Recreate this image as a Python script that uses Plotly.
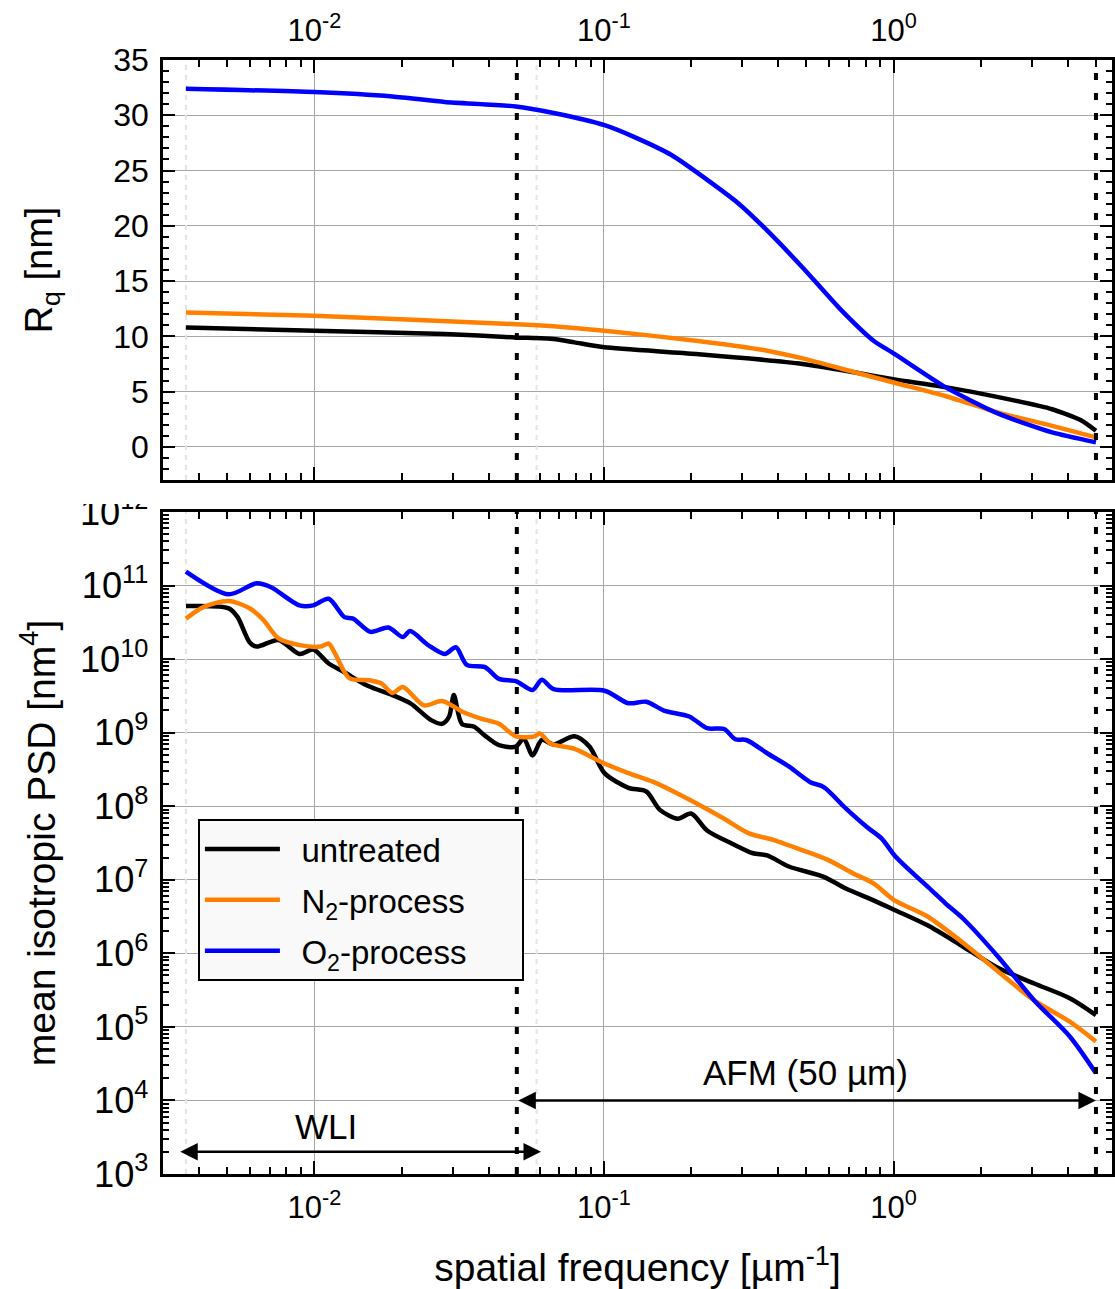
import numpy as np
import plotly.graph_objects as go

# ---------------- data ----------------
# Top panel: Rq [nm] vs spatial frequency [1/um]
rq_f_untreated = [0.0036, 0.01, 0.0282, 0.0496, 0.067, 0.0791, 0.1004, 0.208, 0.486, 0.746, 1.008, 1.51, 2.30, 3.53, 4.44, 5.0]
rq_untreated = [10.8, 10.5, 10.2, 9.9, 9.76, 9.45, 9.0, 8.4, 7.5, 6.7, 6.1, 5.4, 4.5, 3.4, 2.4, 1.45]

rq_f_n2 = [0.0036, 0.01, 0.0496, 0.067, 0.1004, 0.208, 0.366, 0.486, 0.746, 1.008, 1.51, 2.30, 3.53, 5.0]
rq_n2 = [12.15, 11.85, 11.1, 10.9, 10.5, 9.6, 8.7, 8.0, 6.7, 5.8, 4.6, 3.1, 1.9, 0.85]

rq_f_o2 = [0.0036, 0.01, 0.0186, 0.0282, 0.0496, 0.067, 0.1004, 0.128, 0.171, 0.24, 0.292, 0.365, 0.486, 0.647, 0.853, 1.008, 1.51, 2.30, 3.53, 5.0]
rq_o2 = [32.4, 32.1, 31.7, 31.2, 30.8, 30.2, 29.1, 28.0, 26.4, 23.7, 22.0, 19.6, 16.2, 12.6, 9.6, 8.4, 5.4, 3.0, 1.3, 0.4]

# Bottom panel: mean isotropic PSD, stored as log10 exponents of nm^4
psd_f_untreated = [0.0036, 0.00506, 0.00543, 0.00597, 0.00631, 0.00752, 0.00888, 0.0099, 0.0112, 0.0127,
                   0.0152, 0.0186, 0.0214, 0.0253, 0.0276, 0.0292, 0.0303, 0.0323, 0.0356, 0.0388,
                   0.0434, 0.0496, 0.0528, 0.0567, 0.0610, 0.0670, 0.0791, 0.0891, 0.1004, 0.1214,
                   0.140, 0.156, 0.180, 0.200, 0.227, 0.277, 0.327, 0.366, 0.435, 0.574,
                   0.684, 0.853, 1.008, 1.31, 1.74, 2.30, 3.06, 4.06, 5.0]
psd_log_untreated = [10.72, 10.69, 10.57, 10.23, 10.17, 10.26, 10.07, 10.13, 9.94, 9.82,
                     9.64, 9.51, 9.40, 9.17, 9.12, 9.22, 9.51, 9.12, 9.08, 8.96,
                     8.83, 8.81, 8.92, 8.69, 8.90, 8.84, 8.95, 8.81, 8.45, 8.25,
                     8.20, 7.95, 7.83, 7.90, 7.67, 7.49, 7.36, 7.33, 7.18, 7.04,
                     6.88, 6.72, 6.59, 6.38, 6.09, 5.80, 5.59, 5.39, 5.16]

psd_f_n2 = [0.0036, 0.00415, 0.00506, 0.00597, 0.00667, 0.00752, 0.00888, 0.0105, 0.0112, 0.0118,
            0.0132, 0.0156, 0.0170, 0.0186, 0.0202, 0.0239, 0.0276, 0.0326, 0.0376, 0.0434,
            0.0496, 0.0576, 0.0600, 0.0655, 0.0791, 0.1004, 0.1214, 0.148, 0.180, 0.220,
            0.260, 0.317, 0.386, 0.486, 0.593, 0.723, 0.853, 1.008, 1.31, 1.74,
            2.30, 3.06, 4.06, 5.0]
psd_log_n2 = [10.55, 10.71, 10.79, 10.69, 10.53, 10.28, 10.19, 10.17, 10.21, 10.07,
              9.74, 9.71, 9.67, 9.54, 9.62, 9.37, 9.43, 9.28, 9.19, 9.12,
              8.95, 8.95, 8.99, 8.85, 8.78, 8.58, 8.45, 8.33, 8.17, 7.99,
              7.83, 7.63, 7.54, 7.40, 7.27, 7.09, 6.95, 6.72, 6.50, 6.14,
              5.75, 5.36, 5.07, 4.80]

psd_f_o2 = [0.0036, 0.00506, 0.00631, 0.00706, 0.00888, 0.0099, 0.0112, 0.0127, 0.0136, 0.0156,
            0.0180, 0.0202, 0.0214, 0.0247, 0.0282, 0.0308, 0.0336, 0.0388, 0.0434, 0.0496,
            0.0567, 0.0610, 0.0670, 0.1004, 0.1214, 0.140, 0.161, 0.197, 0.227, 0.260,
            0.284, 0.310, 0.366, 0.435, 0.514, 0.574, 0.684, 0.807, 0.910, 1.008,
            1.135, 1.35, 1.51, 1.74, 2.30, 3.06, 4.06, 5.0]
psd_log_o2 = [11.19, 10.88, 11.03, 10.98, 10.73, 10.73, 10.82, 10.57, 10.55, 10.37,
              10.43, 10.30, 10.38, 10.19, 10.07, 10.16, 9.92, 9.89, 9.73, 9.70,
              9.58, 9.72, 9.59, 9.57, 9.40, 9.42, 9.30, 9.22, 9.06, 9.05,
              8.91, 8.90, 8.72, 8.54, 8.33, 8.26, 7.97, 7.72, 7.56, 7.33,
              7.13, 6.86, 6.68, 6.47, 5.95, 5.36, 4.87, 4.37]

series_names = ["untreated", "N<sub>2</sub>-process", "O<sub>2</sub>-process"]
series_colors = ["#000000", "#ff8000", "#0000ff"]

# measurement-range markers
range_bounds = [0.05, 5.0]          # dotted vertical lines
wli_faint = [0.0036, 0.0585]        # faint dashed lines
wli_arrow = [0.0034, 0.0606]
wli_arrow_y = 2.0e3
afm_arrow = [0.05, 5.0]
afm_arrow_y = 1.0e4
wli_label_pos = (0.011, 4.4e3)
afm_label_pos = (0.498, 2.43e4)

x_ticks = [0.01, 0.1, 1.0]
x_tick_text = ["10<sup>-2</sup>", "10<sup>-1</sup>", "10<sup>0</sup>"]
x_range = [0.003, 5.68]

# ---------------- figure ----------------
FONT = "Liberation Sans, Arial, sans-serif"
fig = go.Figure()

top_sets = [(rq_f_untreated, rq_untreated), (rq_f_n2, rq_n2), (rq_f_o2, rq_o2)]
bot_sets = [(psd_f_untreated, psd_log_untreated), (psd_f_n2, psd_log_n2), (psd_f_o2, psd_log_o2)]

# faint dashed lines
for xv in wli_faint:
    fig.add_trace(go.Scatter(x=[xv, xv], y=[-3, 35], mode="lines", xaxis="x", yaxis="y",
                             line=dict(color="#e4e4e4", width=2, dash="5px,5px"),
                             showlegend=False, hoverinfo="skip"))
    fig.add_trace(go.Scatter(x=[xv, xv], y=[1e3, 1e12], mode="lines", xaxis="x2", yaxis="y2",
                             line=dict(color="#e4e4e4", width=2, dash="5px,5px"),
                             showlegend=False, hoverinfo="skip"))

for (fx, fy), name, col in zip(top_sets, series_names, series_colors):
    fig.add_trace(go.Scatter(x=fx, y=fy, mode="lines", xaxis="x", yaxis="y", name=name,
                             line=dict(color=col, width=4.5, shape="spline", smoothing=0.6),
                             showlegend=False))

for i, ((fx, fy), name, col) in enumerate(zip(bot_sets, series_names, series_colors)):
    fig.add_trace(go.Scatter(x=fx, y=[10 ** v for v in fy], mode="lines", xaxis="x2", yaxis="y2",
                             name="\u2002" + name + "\u2003\u2002", legendgroup="g%d" % i,
                             line=dict(color=col, width=4.5, shape="spline", smoothing=0.8),
                             showlegend=True))

# dotted range lines
for xv in range_bounds:
    fig.add_trace(go.Scatter(x=[xv, xv], y=[-3, 35], mode="lines", xaxis="x", yaxis="y",
                             line=dict(color="black", width=4, dash="7px,13px"),
                             showlegend=False, hoverinfo="skip"))
    fig.add_trace(go.Scatter(x=[xv, xv], y=[1e3, 1e12], mode="lines", xaxis="x2", yaxis="y2",
                             line=dict(color="black", width=4, dash="7px,13px"),
                             showlegend=False, hoverinfo="skip"))

axis_common = dict(showline=True, linecolor="black", linewidth=2.5, mirror="ticks",
                   ticks="inside", tickcolor="black", tickwidth=2,
                   showgrid=True, gridcolor="#a6a6a6", gridwidth=1, zeroline=False,
                   tickfont=dict(family=FONT, size=31, color="black"))

fig.update_layout(
    width=1115, height=1289,
    margin=dict(l=163, r=0, t=60, b=115),
    paper_bgcolor="white", plot_bgcolor="white",
    font=dict(family=FONT, color="black"),
    xaxis=dict(axis_common, type="log", range=[np.log10(x_range[0]), np.log10(x_range[1])],
               domain=[0, 1], anchor="y", side="top",
               tickmode="array", tickvals=x_ticks, ticktext=x_tick_text, ticklen=13,
               ticklabelstandoff=4,
               minor=dict(ticks="inside", ticklen=7, tickwidth=2, tickcolor="black", dtick="D1", showgrid=False)),
    yaxis=dict(axis_common, range=[-3, 35], domain=[0.623, 1], anchor="x",
               dtick=5, tick0=0, ticklen=12, ticklabelstandoff=5,
               tickfont=dict(family=FONT, size=32, color="black"),
               minor=dict(ticks="inside", ticklen=6, tickwidth=2, tickcolor="black", dtick=1, showgrid=False),
               title=dict(text="R<sub>q</sub> [nm]", font=dict(family=FONT, size=38), standoff=49)),
    xaxis2=dict(axis_common, type="log", range=[np.log10(x_range[0]), np.log10(x_range[1])],
                domain=[0, 1], anchor="y2", side="bottom",
                tickmode="array", tickvals=x_ticks, ticktext=x_tick_text, ticklen=13,
                ticklabelstandoff=4,
                minor=dict(ticks="inside", ticklen=7, tickwidth=2, tickcolor="black", dtick="D1", showgrid=False),
                title=dict(text="\u2002spatial frequency [µm<sup>-1</sup>]", font=dict(family=FONT, size=39), standoff=34)),
    yaxis2=dict(axis_common, type="log", range=[3, 12], domain=[0, 0.5943], anchor="x2",
                dtick=1, exponentformat="power", ticklen=12, ticklabelstandoff=6,
                tickfont=dict(family=FONT, size=29, color="black"),
                minor=dict(ticks="inside", ticklen=6, tickwidth=2, tickcolor="black", dtick="D1", showgrid=False),
                title=dict(text="mean isotropic PSD [nm<sup>4</sup>]", font=dict(family=FONT, size=39), standoff=13)),
    legend=dict(x=0.0368, y=0.3187, xanchor="left", yanchor="top",
                bgcolor="#f9f9f9", bordercolor="black", borderwidth=2,
                font=dict(family=FONT, size=33, color="black"), itemwidth=75,
                tracegroupgap=5),
)

# clip the top of the 10^12 label as in the reference
fig.add_shape(type="rect", xref="paper", yref="paper", x0=-0.17, x1=-0.012, y0=0.6015, y1=0.619,
              fillcolor="white", line=dict(width=0), layer="above")

# arrows
arrow_style = dict(showarrow=True, arrowhead=2, startarrowhead=2, arrowside="end+start",
                   arrowwidth=2.5, arrowsize=1.4, startarrowsize=1.4, arrowcolor="black",
                   text="", xref="x2", yref="y2", axref="x2", ayref="y2", standoff=0, startstandoff=0)
fig.add_annotation(x=np.log10(wli_arrow[1]), y=np.log10(wli_arrow_y),
                   ax=np.log10(wli_arrow[0]), ay=np.log10(wli_arrow_y), **arrow_style)
fig.add_annotation(x=np.log10(afm_arrow[1]), y=np.log10(afm_arrow_y),
                   ax=np.log10(afm_arrow[0]), ay=np.log10(afm_arrow_y), **arrow_style)

fig.add_annotation(x=np.log10(wli_label_pos[0]), y=np.log10(wli_label_pos[1]), text="WLI",
                   showarrow=False, xref="x2", yref="y2", font=dict(family=FONT, size=35, color="black"))
fig.add_annotation(x=np.log10(afm_label_pos[0]), y=np.log10(afm_label_pos[1]), text="AFM (50 µm)",
                   showarrow=False, xref="x2", yref="y2", font=dict(family=FONT, size=35, color="black"))

fig.write_html("out.html")
